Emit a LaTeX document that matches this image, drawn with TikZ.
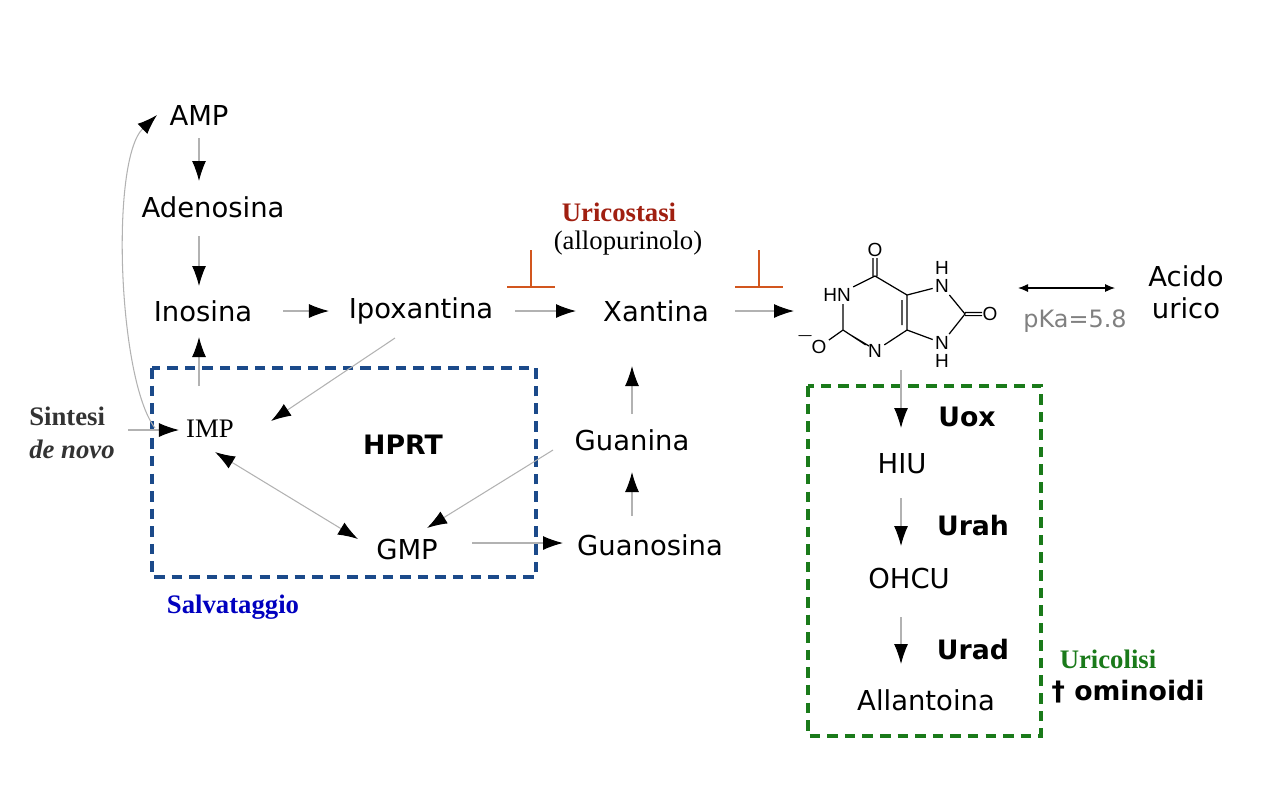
\documentclass[tikz,border=0pt]{standalone}
\usepackage{fontspec}
\setmainfont{Liberation Serif}
\setsansfont{DejaVu Sans}
\newfontfamily\chemfont{Liberation Sans}
\usetikzlibrary{arrows.meta}
\definecolor{salvblue}{HTML}{1B4A8A}
\definecolor{urigreen}{HTML}{1A7A1A}
\definecolor{stasired}{HTML}{A01F10}
\definecolor{inhorange}{HTML}{D2561E}
\tikzset{
  mol/.style={font=\sffamily\fontsize{7.8}{9}\selectfont, align=center, inner sep=1pt},
  enz/.style={font=\sffamily\bfseries\fontsize{7.6}{9}\selectfont, inner sep=1pt},
  ser/.style={font=\rmfamily\fontsize{7.6}{9}\selectfont, align=left, inner sep=1pt},
  atom/.style={font=\chemfont\fontsize{5.4}{6}\selectfont, inner sep=0.5pt},
  flow/.style={draw=gray!60, line width=0.3pt, -{Latex[black,length=0.2cm,width=0.14cm]}},
  inh/.style={draw=inhorange, line width=0.8pt},
  box/.style={dashed, line width=1.1pt, dash pattern=on 3pt off 2pt},
}
\begin{document}
\begin{tikzpicture}[x=0.01cm,y=-0.01cm]
    \useasboundingbox (0,0) rectangle (1280,808);
    % metabolites
    \node[mol] (amp) at (199,115) {AMP};
    \node[mol] (ado) at (213,207) {Adenosina};
    \node[mol] (ino) at (203,311) {Inosina};
    \node[mol] (ipo) at (421,311) {Ipoxantina};
    \node[mol] (xan) at (656,311) {Xantina};
    \node[mol] (gua) at (632,440) {Guanina};
    \node[mol] (gmp) at (407,549) {GMP};
    \node[mol] (guo) at (650,545) {Guanosina};
    \node[ser] (imp) at (210,429) {IMP};
    \node[enz] (hprt) at (403,445) {HPRT};
    \node[mol] (acido) at (1186,292) {Acido\\urico};
    \node[mol, text=gray, font=\sffamily\fontsize{6.8}{8}\selectfont] (pka) at (1075,321) {pKa=5.8};
    \node[mol] (hiu) at (902,464) {HIU};
    \node[mol] (ohcu) at (909,578) {OHCU};
    \node[mol] (allan) at (926,700) {Allantoina};
    \node[enz] (uox) at (967,417) {Uox};
    \node[enz] (urah) at (973,526) {Urah};
    \node[enz] (urad) at (973,650) {Urad};
    % labels
    \node[ser, text=gray!40!black, font=\rmfamily\bfseries\fontsize{7.6}{9.2}\selectfont] (denovo) at (72,433) {Sintesi\\\textit{de novo}};
    \node[ser, text=blue!75!black, font=\rmfamily\bfseries\fontsize{7.6}{9}\selectfont] (salv) at (233,607) {Salvataggio};
    \node[ser, text=stasired, font=\rmfamily\bfseries\fontsize{7.6}{9}\selectfont] (stasi) at (619,212) {Uricostasi};
    \node[ser] (allo) at (628,243) {(allopurinolo)};
    \node[ser, text=urigreen, font=\rmfamily\bfseries\fontsize{7.6}{9}\selectfont] (urico) at (1108,659) {Uricolisi};
    \node[enz] (omin) at (1128,692) {\textdagger\ ominoidi};
    % dashed boxes
    \draw[box, salvblue] (152,368) rectangle (536,577);
    \draw[box, urigreen] (808,386) rectangle (1041,736);
    % uric acid
    \coordinate (c6) at (875,276);
    \coordinate (c5) at (907,295);
    \coordinate (c4) at (907,330);
    \coordinate (c2) at (843,330);
    \coordinate (c8) at (965,314);
    \node[atom] (o6) at (875,250) {O};
    \node[atom] (n1) at (837,295) {HN};
    \node[atom] (n3) at (875,351) {N};
    \node[atom] (o2) at (819,347) {O};
    \node[atom] at (806,338) {$^{-}$};
    \node[atom] (n7) at (942,286) {N};
    \node[atom] at (942,268) {H};
    \node[atom] (n9) at (942,343) {N};
    \node[atom] at (942,361) {H};
    \node[atom] (o8) at (990,314) {O};
    \draw[line width=0.35pt] (c6) -- (n1) (843,304) -- (c2) -- (n3) -- (c4) -- (c5) -- (c6)
        (c5) -- (n7) -- (c8) -- (n9) -- (c4) (c2) -- (o2)
        (873,276) -- (873,258) (877,276) -- (877,258)
        (965,312.4) -- (982,312.4) (965,315.6) -- (982,315.6)
        (902,300) -- (902,325) (849,334) -- (869,346);
    % pathway arrows
    \draw[flow] (199,138) -- (199,181);
    \draw[flow] (199,236) -- (199,286);
    \draw[flow] (283,311) -- (329,311);
    \draw[flow] (515,311) -- (576,311);
    \draw[flow] (735,311) -- (794,311);
    \draw[flow] (199,386) -- (199,337);
    \draw[flow] (155,428) .. controls (118,380) and (110,160) .. (157,115);
    \draw[flow] (128,430) -- (179,430);
    \draw[flow] (395,338) -- (271,421);
    \draw[flow, {Latex[black,length=0.2cm,width=0.14cm]}-{Latex[black,length=0.2cm,width=0.14cm]}] (215,452) -- (358,539);
    \draw[flow] (553,450) -- (427,528);
    \draw[flow] (472,543) -- (563,543);
    \draw[flow] (632,516) -- (632,472);
    \draw[flow] (632,414) -- (632,366);
    \draw[flow] (901,370) -- (901,428);
    \draw[flow] (901,498) -- (901,546);
    \draw[flow] (901,617) -- (901,664);
    \draw[line width=0.3pt, {Latex[length=0.1cm,width=0.08cm]}-{Latex[length=0.1cm,width=0.08cm]}] (1018,288) -- (1115,288);
    % inhibition
    \draw[inh] (531,250) -- (531,287) (507,287) -- (555,287);
    \draw[inh] (759,250) -- (759,287) (735,287) -- (783,287);
\end{tikzpicture}
\end{document}
